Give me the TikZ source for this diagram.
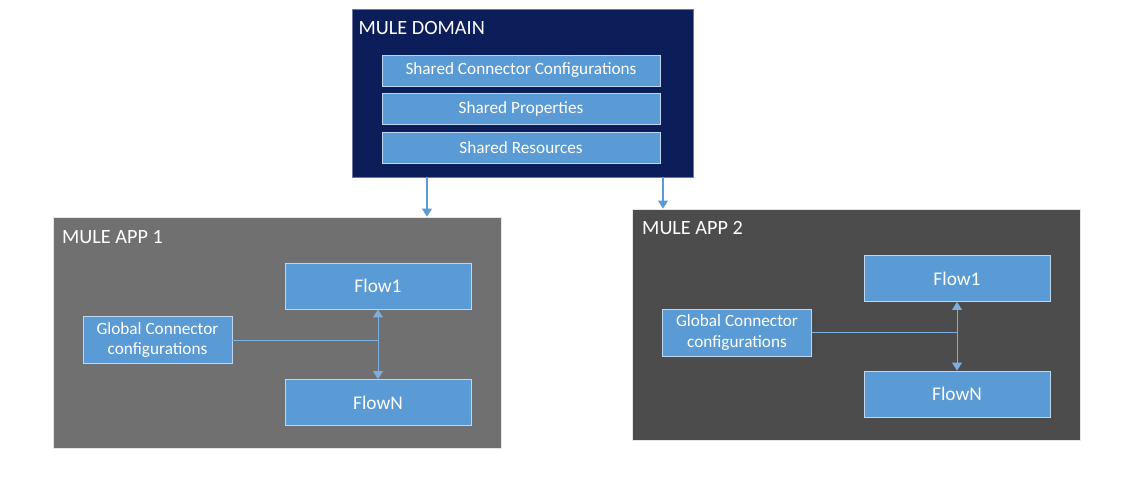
\documentclass[tikz,border=0pt]{standalone}
\usepackage{fontspec}
\setmainfont{Carlito}
\usepackage{xcolor}
\usetikzlibrary{arrows.meta}

\definecolor{navy}{RGB}{12,30,90}
\definecolor{boxblue}{RGB}{91,155,213}
\definecolor{boxedge}{RGB}{190,215,238}
\definecolor{appgrey}{RGB}{112,112,112}
\definecolor{appdark}{RGB}{76,76,76}

\tikzset{
    domainbox/.style={fill=navy, draw=navy!60, minimum width=6.82cm, minimum height=3.36cm},
    appbox/.style={draw=white!80!gray, minimum width=8.96cm, minimum height=4.62cm},
    sharedbox/.style={fill=boxblue, draw=boxedge, text=white, minimum width=5.56cm, minimum height=0.62cm, font=\fontsize{9.8}{11}\selectfont},
    flowbox/.style={fill=boxblue, draw=boxedge, text=white, minimum width=3.72cm, minimum height=0.92cm, font=\fontsize{11}{13}\selectfont},
    globalbox/.style={fill=boxblue, draw=boxedge, text=white, minimum width=2.98cm, minimum height=0.93cm, align=center, font=\fontsize{9.8}{11.5}\selectfont},
    title/.style={text=white, anchor=west, font=\fontsize{11.5}{13}\selectfont},
    link/.style={draw=boxblue!80!white, thin},
}

\begin{document}
\begin{tikzpicture}[>={Triangle[length=4.5pt,width=5.5pt]}]
    \useasboundingbox[fill=white] (0,0) rectangle (22.5,-9.54);
    % Mule domain with shared resources
    \node[domainbox] (dom) at (10.45,-1.86) {};
    \node[title] (domt) at (7.05,-0.56) {MULE DOMAIN};
    \node[sharedbox] (conf) at (10.42,-1.41) {Shared Connector Configurations};
    \node[sharedbox] (prop) at (10.42,-2.17) {Shared Properties};
    \node[sharedbox] (res) at (10.42,-2.95) {Shared Resources};
    % The two applications
    \node[appbox, fill=appgrey] (app1) at (5.55,-6.65) {};
    \node[title] (app1t) at (1.12,-4.74) {MULE APP 1};
    \node[appbox, fill=appdark] (app2) at (17.13,-6.49) {};
    \node[title] (app2t) at (12.72,-4.56) {MULE APP 2};
    % Domain feeds both apps
    \coordinate (la) at (8.54,-3.54);
    \coordinate (ra) at (13.26,-3.54);
    \draw[->, boxblue, thick] (la) -- (la |- app1.north);
    \draw[->, boxblue, thick] (ra) -- (ra |- app2.north);
    % App 1 contents
    \node[flowbox] (a1f1) at (7.56,-5.72) {Flow1};
    \node[flowbox] (a1fn) at (7.56,-8.05) {FlowN};
    \node[globalbox] (a1g) at (3.15,-6.8) {Global Connector\\configurations};
    \draw[link] (a1g.east) -- (a1g.east -| a1f1.south);
    \draw[link, <->] (a1f1.south) -- (a1fn.north);
    % App 2 contents
    \node[flowbox] (a2f1) at (19.14,-5.57) {Flow1};
    \node[flowbox] (a2fn) at (19.14,-7.88) {FlowN};
    \node[globalbox] (a2g) at (14.74,-6.65) {Global Connector\\configurations};
    \draw[link] (a2g.east) -- (a2g.east -| a2f1.south);
    \draw[link, <->] (a2f1.south) -- (a2fn.north);
\end{tikzpicture}
\end{document}
